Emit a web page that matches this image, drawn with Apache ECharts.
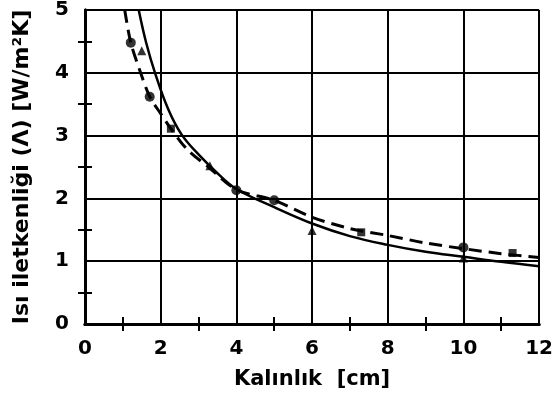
<!DOCTYPE html>
<html>
<head>
<meta charset="utf-8">
<script src="https://cdn.jsdelivr.net/npm/echarts@6/dist/echarts.min.js"></script>
<style>
  html, body { margin: 0; padding: 0; background: #fff; }
  #chart { width: 556px; height: 399px; }
</style>
</head>
<body>
<div id="chart"></div>
<script>
// solid curve (x, y)
const solidX = [1.42, 1.62, 1.85, 2.2, 2.55, 3.0, 3.5, 4.0, 5.0, 6.0, 7.0, 8.0, 9.0, 10.0, 11.0, 12.0]
const solidY = [5.0, 4.47, 4.0, 3.42, 3.02, 2.7, 2.4, 2.15, 1.86, 1.6, 1.4, 1.26, 1.15, 1.07, 0.99, 0.92]

// dashed curve
const dashX = [1.05, 1.21, 1.47, 1.71, 2.0, 2.27, 2.7, 3.3, 4.0, 5.0, 6.0, 7.0, 8.0, 9.0, 10.0, 11.0, 12.0]
const dashY = [5.0, 4.48, 4.0, 3.62, 3.35, 3.11, 2.78, 2.48, 2.14, 1.97, 1.7, 1.52, 1.41, 1.29, 1.2, 1.12, 1.06]

// measured points
const circlePts = [[1.21, 4.48], [1.71, 3.62], [4.0, 2.13], [5.0, 1.97], [10.0, 1.22]]
const trianglePts = [[1.5, 4.35], [3.3, 2.52], [6.0, 1.49], [10.0, 1.05]]
const squarePts = [[2.27, 3.11], [7.3, 1.46], [11.3, 1.13]]

const xLabel = 'Kalınlık  [cm]'
const yLabel = 'Isı iletkenliği (Λ) [W/m²K]'

const font = 'DejaVu Sans'

function zip(xs, ys) {
  return xs.map((x, i) => [x, ys[i]])
}

const lineAxis = {
  show: true,
  lineStyle: { color: '#000', width: 3 }
}

const minor = { show: true, splitNumber: 2, length: 7, lineStyle: { color: '#000', width: 2 } }

const option = {
  animation: false,
  backgroundColor: '#fff',
  grid: { left: 85, right: 7, top: 9, bottom: 75 },
  xAxis: [
    {
      type: 'value', min: 0, max: 12, interval: 2,
      name: xLabel, nameLocation: 'middle', nameGap: 45,
      nameTextStyle: { fontFamily: font, fontWeight: 'bold', fontSize: 21, color: '#000' },
      axisLine: lineAxis,
      axisTick: { show: false },
      minorTick: minor,
      axisLabel: { margin: 15, fontFamily: font, fontWeight: 'bold', fontSize: 20, color: '#000' },
      splitLine: { show: true, lineStyle: { color: '#000', width: 2 } }
    },
    {
      type: 'value', min: 0, max: 12, interval: 2, position: 'top',
      axisLine: lineAxis,
      axisTick: { show: false },
      minorTick: minor,
      axisLabel: { show: false },
      splitLine: { show: false }
    }
  ],
  yAxis: [
    {
      type: 'value', min: 0, max: 5, interval: 1,
      name: yLabel, nameLocation: 'middle', nameGap: 52,
      nameTextStyle: { fontFamily: font, fontWeight: 'bold', fontSize: 22, color: '#000' },
      axisLine: lineAxis,
      axisTick: { show: false },
      minorTick: minor,
      axisLabel: { margin: 16, fontFamily: font, fontWeight: 'bold', fontSize: 20, color: '#000' },
      splitLine: { show: true, lineStyle: { color: '#000', width: 2 } }
    },
    {
      type: 'value', min: 0, max: 5, interval: 1, position: 'right',
      axisLine: lineAxis,
      axisTick: { show: false },
      minorTick: minor,
      axisLabel: { show: false },
      splitLine: { show: false }
    }
  ],
  series: [
    {
      type: 'line', data: zip(solidX, solidY), smooth: 0.4, symbol: 'none',
      lineStyle: { color: '#000', width: 2.5 }
    },
    {
      type: 'line', data: zip(dashX, dashY), smooth: 0.3, symbol: 'none',
      lineStyle: { color: '#000', width: 3, type: [13, 7] }
    },
    {
      type: 'scatter', data: circlePts, symbol: 'circle', symbolSize: 10,
      itemStyle: { color: '#000' }
    },
    {
      type: 'scatter', data: trianglePts, symbol: 'triangle', symbolSize: 9,
      itemStyle: { color: '#000' }
    },
    {
      type: 'scatter', data: squarePts, symbol: 'rect', symbolSize: 8,
      itemStyle: { color: '#000' }
    }
  ]
}

const chart = echarts.init(document.getElementById('chart'))
chart.setOption(option)
</script>
</body>
</html>
